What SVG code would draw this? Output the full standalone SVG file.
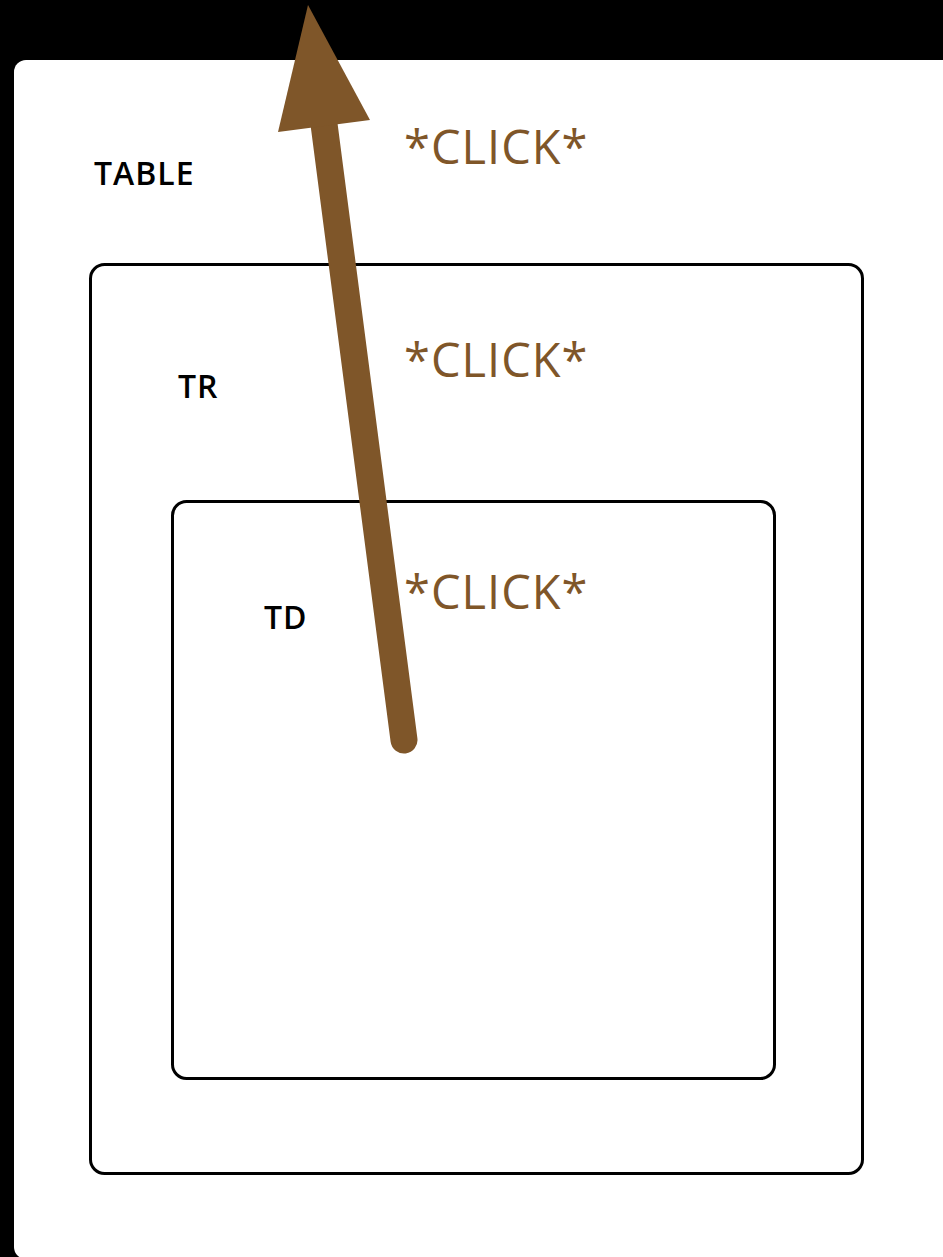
<svg xmlns="http://www.w3.org/2000/svg" width="943" height="1257" viewBox="0 0 943 1257">
<style>
.box{fill:none;stroke:#000;stroke-width:3}
.lbl{font-family:"Open Sans","Noto Sans",sans-serif;font-size:32px;font-weight:600;fill:#000;letter-spacing:1px}
.click{font-family:"Open Sans","Noto Sans",sans-serif;font-size:47px;fill:#7f5629;letter-spacing:1px}
</style>
<rect x="0" y="0" width="943" height="1257" fill="#000"/>
<g id="table">
<rect x="14" y="60" width="1000" height="1199" rx="12" fill="#fff"/>
<text class="lbl" x="94" y="185">TABLE</text>
</g>
<g id="tr">
<rect class="box" x="90.5" y="264.5" width="772" height="909" rx="14"/>
<text class="lbl" x="178" y="398">TR</text>
</g>
<g id="td">
<rect class="box" x="172.5" y="501.5" width="602" height="577" rx="14"/>
<text class="lbl" x="264" y="629">TD</text>
</g>
<g id="connectors">
<line x1="404" y1="740" x2="324" y2="124" stroke="#7f5629" stroke-width="27" stroke-linecap="round"/>
<polygon points="308,5 370,120 278,132" fill="#7f5629"/>
</g>
<g id="labels">
<text class="click" x="404" y="164">*CLICK*</text>
<text class="click" x="404" y="377">*CLICK*</text>
<text class="click" x="404" y="609">*CLICK*</text>
</g>
</svg>
